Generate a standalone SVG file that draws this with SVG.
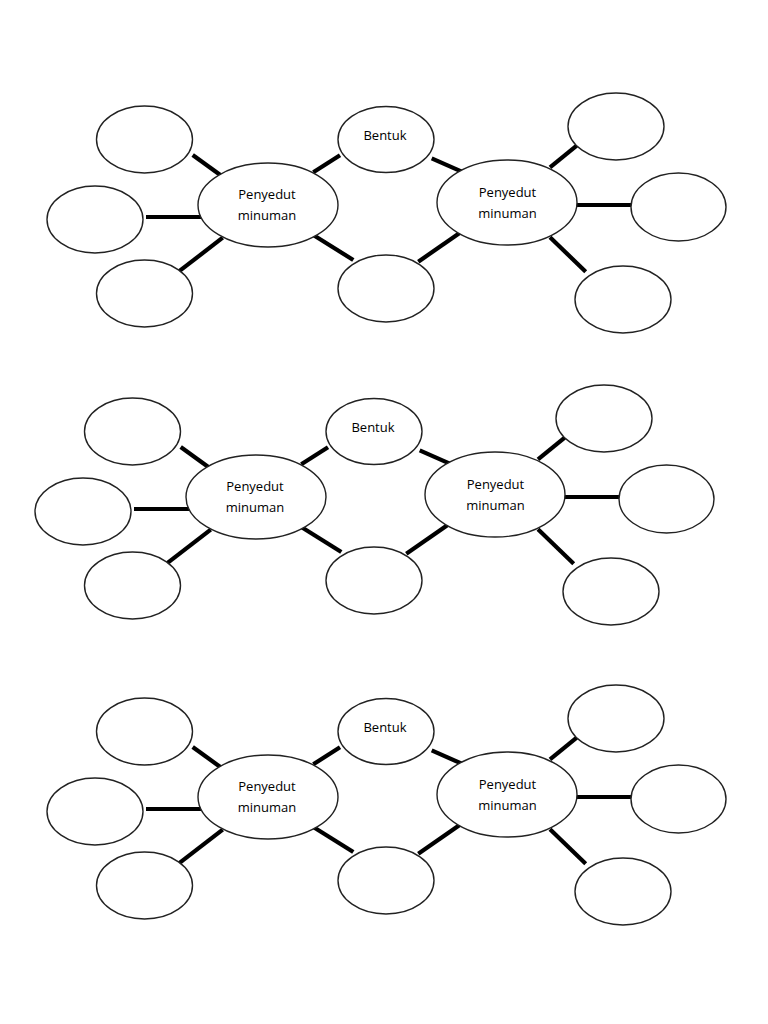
<svg xmlns="http://www.w3.org/2000/svg" width="768" height="1024" viewBox="0 0 768 1024">
<style>
.n ellipse{fill:#fff;stroke:#222;stroke-width:1.4}
.c line{stroke:#000;stroke-width:4.2;stroke-linecap:butt}
text{font-family:"Open Sans","Liberation Sans",sans-serif;font-size:13px;fill:#000;text-anchor:middle}
</style>
<rect width="768" height="1024" fill="#fff"/>
<g id="diagram1">
<g id="d1-connectors" class="c">
<line x1="192.7" y1="155" x2="221.7" y2="176"/>
<line x1="146" y1="217" x2="203" y2="217"/>
<line x1="177.3" y1="272.7" x2="222.7" y2="237.7"/>
<line x1="313.3" y1="172.3" x2="340" y2="155.3"/>
<line x1="313.3" y1="235" x2="353.3" y2="260"/>
<line x1="431.7" y1="158.3" x2="464" y2="172.7"/>
<line x1="418.3" y1="261.7" x2="460" y2="232.7"/>
<line x1="550" y1="167.3" x2="576.7" y2="145.7"/>
<line x1="575" y1="205" x2="632.3" y2="205"/>
<line x1="550" y1="237.3" x2="585.7" y2="271.7"/>
</g>
<g id="d1-left-top" class="n"><ellipse cx="144.5" cy="139.5" rx="48" ry="33.5"/></g>
<g id="d1-left-mid" class="n"><ellipse cx="95" cy="219.5" rx="48" ry="33.5"/></g>
<g id="d1-left-bottom" class="n"><ellipse cx="144.5" cy="293.5" rx="48" ry="33.5"/></g>
<g id="d1-center-left" class="n"><ellipse cx="268" cy="205" rx="70" ry="42"/><text x="267" y="199">Penyedut</text><text x="267" y="220">minuman</text></g>
<g id="d1-bentuk" class="n"><ellipse cx="386" cy="139.5" rx="48" ry="33"/><text x="385" y="139.5">Bentuk</text></g>
<g id="d1-mid-bottom" class="n"><ellipse cx="386" cy="288.5" rx="48" ry="33.5"/></g>
<g id="d1-center-right" class="n"><ellipse cx="507" cy="202.5" rx="70" ry="42.5"/><text x="507.5" y="197">Penyedut</text><text x="507.5" y="218">minuman</text></g>
<g id="d1-right-top" class="n"><ellipse cx="616" cy="126.5" rx="48" ry="33.5"/></g>
<g id="d1-right-mid" class="n"><ellipse cx="678.5" cy="207" rx="47.5" ry="34"/></g>
<g id="d1-right-bottom" class="n"><ellipse cx="623" cy="299.5" rx="48" ry="33.5"/></g>
</g>
<g id="diagram2" transform="translate(-12,292)">
<g id="d2-connectors" class="c">
<line x1="192.7" y1="155" x2="221.7" y2="176"/>
<line x1="146" y1="217" x2="203" y2="217"/>
<line x1="177.3" y1="272.7" x2="222.7" y2="237.7"/>
<line x1="313.3" y1="172.3" x2="340" y2="155.3"/>
<line x1="313.3" y1="235" x2="353.3" y2="260"/>
<line x1="431.7" y1="158.3" x2="464" y2="172.7"/>
<line x1="418.3" y1="261.7" x2="460" y2="232.7"/>
<line x1="550" y1="167.3" x2="576.7" y2="145.7"/>
<line x1="575" y1="205" x2="632.3" y2="205"/>
<line x1="550" y1="237.3" x2="585.7" y2="271.7"/>
</g>
<g id="d2-left-top" class="n"><ellipse cx="144.5" cy="139.5" rx="48" ry="33.5"/></g>
<g id="d2-left-mid" class="n"><ellipse cx="95" cy="219.5" rx="48" ry="33.5"/></g>
<g id="d2-left-bottom" class="n"><ellipse cx="144.5" cy="293.5" rx="48" ry="33.5"/></g>
<g id="d2-center-left" class="n"><ellipse cx="268" cy="205" rx="70" ry="42"/><text x="267" y="199">Penyedut</text><text x="267" y="220">minuman</text></g>
<g id="d2-bentuk" class="n"><ellipse cx="386" cy="139.5" rx="48" ry="33"/><text x="385" y="139.5">Bentuk</text></g>
<g id="d2-mid-bottom" class="n"><ellipse cx="386" cy="288.5" rx="48" ry="33.5"/></g>
<g id="d2-center-right" class="n"><ellipse cx="507" cy="202.5" rx="70" ry="42.5"/><text x="507.5" y="197">Penyedut</text><text x="507.5" y="218">minuman</text></g>
<g id="d2-right-top" class="n"><ellipse cx="616" cy="126.5" rx="48" ry="33.5"/></g>
<g id="d2-right-mid" class="n"><ellipse cx="678.5" cy="207" rx="47.5" ry="34"/></g>
<g id="d2-right-bottom" class="n"><ellipse cx="623" cy="299.5" rx="48" ry="33.5"/></g>
</g>
<g id="diagram3" transform="translate(0,592)">
<g id="d3-connectors" class="c">
<line x1="192.7" y1="155" x2="221.7" y2="176"/>
<line x1="146" y1="217" x2="203" y2="217"/>
<line x1="177.3" y1="272.7" x2="222.7" y2="237.7"/>
<line x1="313.3" y1="172.3" x2="340" y2="155.3"/>
<line x1="313.3" y1="235" x2="353.3" y2="260"/>
<line x1="431.7" y1="158.3" x2="464" y2="172.7"/>
<line x1="418.3" y1="261.7" x2="460" y2="232.7"/>
<line x1="550" y1="167.3" x2="576.7" y2="145.7"/>
<line x1="575" y1="205" x2="632.3" y2="205"/>
<line x1="550" y1="237.3" x2="585.7" y2="271.7"/>
</g>
<g id="d3-left-top" class="n"><ellipse cx="144.5" cy="139.5" rx="48" ry="33.5"/></g>
<g id="d3-left-mid" class="n"><ellipse cx="95" cy="219.5" rx="48" ry="33.5"/></g>
<g id="d3-left-bottom" class="n"><ellipse cx="144.5" cy="293.5" rx="48" ry="33.5"/></g>
<g id="d3-center-left" class="n"><ellipse cx="268" cy="205" rx="70" ry="42"/><text x="267" y="199">Penyedut</text><text x="267" y="220">minuman</text></g>
<g id="d3-bentuk" class="n"><ellipse cx="386" cy="139.5" rx="48" ry="33"/><text x="385" y="139.5">Bentuk</text></g>
<g id="d3-mid-bottom" class="n"><ellipse cx="386" cy="288.5" rx="48" ry="33.5"/></g>
<g id="d3-center-right" class="n"><ellipse cx="507" cy="202.5" rx="70" ry="42.5"/><text x="507.5" y="197">Penyedut</text><text x="507.5" y="218">minuman</text></g>
<g id="d3-right-top" class="n"><ellipse cx="616" cy="126.5" rx="48" ry="33.5"/></g>
<g id="d3-right-mid" class="n"><ellipse cx="678.5" cy="207" rx="47.5" ry="34"/></g>
<g id="d3-right-bottom" class="n"><ellipse cx="623" cy="299.5" rx="48" ry="33.5"/></g>
</g>
</svg>
